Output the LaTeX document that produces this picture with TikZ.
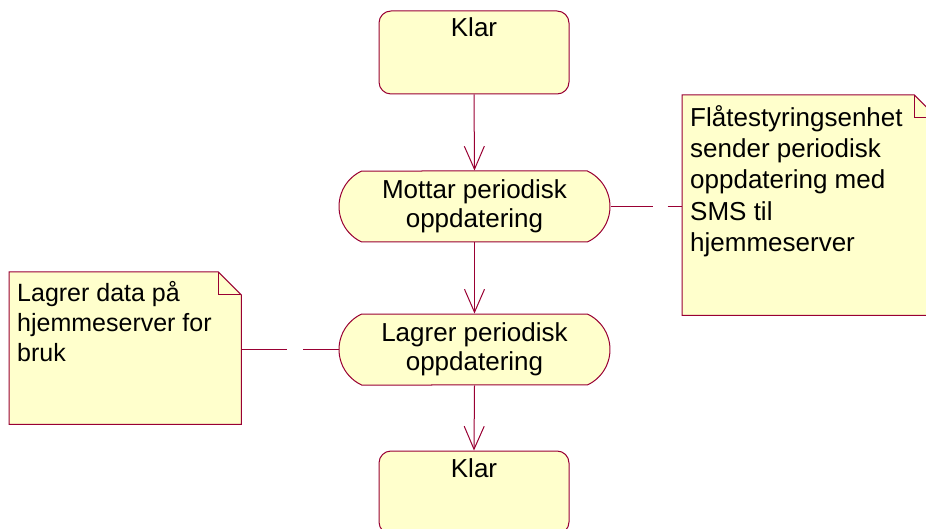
\documentclass[tikz,border=0pt]{standalone}
\usepackage{fontspec}
\setmainfont{Liberation Sans}
\usetikzlibrary{arrows.meta,shapes.misc}
\definecolor{umlline}{RGB}{153,0,51}
\definecolor{umlfill}{RGB}{255,255,204}
\begin{document}
\begin{tikzpicture}[x=1pt,y=-1pt,
  every node/.style={font=\fontsize{26}{29}\selectfont},
  state/.style={draw=umlline, fill=umlfill, line width=1pt, rounded corners=12pt,
    minimum width=190pt, inner sep=0pt, text height=26pt, text depth=57pt},
  activity/.style={draw=umlline, fill=umlfill, line width=1pt, rounded rectangle,
    rounded rectangle arc length=130, minimum width=271pt, minimum height=71pt,
    align=center, inner sep=0pt},
  notebox/.style={draw=none, fill=none, inner sep=0pt, anchor=north west},
  notetext/.style={anchor=north west, align=left, inner sep=0pt},
  noteshape/.style={draw=umlline, fill=umlfill, line width=1pt, line join=miter},
  flow/.style={draw=umlline, line width=1pt, -{Straight Barb[length=23pt,width=20pt]}},
  anchorline/.style={draw=umlline, line width=1pt}
]
\useasboundingbox (0,0) rectangle (926,529);
\clip (0,0) rectangle (926,529);

% states and activities
\node[state] (klar1) at (474,52.5) {Klar};
\node[activity] (mottar) at (474.5,206.5) {Mottar periodisk\\oppdatering};
\node[activity] (lagrer) at (474.5,349.5) {Lagrer periodisk\\oppdatering};
\node[state] (klar2) at (474,492.5) {Klar};

% note on the left
\node[notebox, minimum width=232pt, minimum height=152pt] (nl) at (9,272) {};
\draw[noteshape] (nl.north west) -- ([xshift=-23pt]nl.north east)
  -- ([yshift=-23pt]nl.north east) -- (nl.south east) -- (nl.south west) -- cycle;
\draw[noteshape, fill=none] ([xshift=-23pt]nl.north east)
  -- ([xshift=-23pt,yshift=-23pt]nl.north east) -- ([yshift=-23pt]nl.north east);
\node[notetext, font=\fontsize{25}{30}\selectfont] (nltext)
  at ([xshift=8pt,yshift=-9pt]nl.north west)
  {Lagrer data på\\hjemmeserver for\\bruk};

% note on the right
\node[notebox, minimum width=255pt, minimum height=220pt] (nr) at (682,95) {};
\draw[noteshape] (nr.north west) -- ([xshift=-23pt]nr.north east)
  -- ([yshift=-23pt]nr.north east) -- (nr.south east) -- (nr.south west) -- cycle;
\draw[noteshape, fill=none] ([xshift=-23pt]nr.north east)
  -- ([xshift=-23pt,yshift=-23pt]nr.north east) -- ([yshift=-23pt]nr.north east);
\node[notetext, font=\fontsize{26}{31.3}\selectfont] (nrtext)
  at ([xshift=8pt,yshift=-10pt]nr.north west)
  {Flåtestyringsenhet\\sender periodisk\\oppdatering med\\SMS til\\hjemmeserver};

% transitions
\draw[flow] (klar1.south) -- (mottar.north);
\draw[flow] (mottar.south) -- (lagrer.north);
\draw[flow] (lagrer.south) -- (klar2.north);

% note anchors
\draw[anchorline, dash pattern=on 42pt off 15pt] (mottar.east) -- (nr.west |- mottar.east);
\draw[anchorline, dash pattern=on 46pt off 16pt] (nl.east |- lagrer.west) -- (lagrer.west);
\end{tikzpicture}
\end{document}
